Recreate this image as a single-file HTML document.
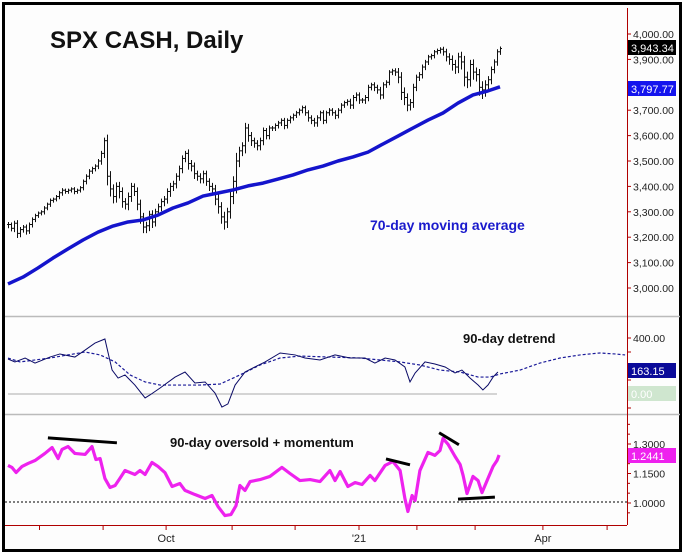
<!DOCTYPE html>
<html><head><meta charset="utf-8">
<style>
html,body{margin:0;padding:0;background:#fff;}
svg{display:block;font-family:"Liberation Sans",Arial,sans-serif;}
</style></head>
<body>
<svg id="chart" width="685" height="555" viewBox="0 0 685 555" xmlns="http://www.w3.org/2000/svg">
<rect x="0" y="0" width="685" height="555" fill="#fff"/>
<rect x="3.5" y="3.5" width="677" height="547" fill="#fdfdfd" stroke="#000" stroke-width="3"/>
<line x1="5" y1="316.5" x2="680" y2="316.5" stroke="#bbb" stroke-width="1.5"/>
<line x1="5" y1="414.5" x2="680" y2="414.5" stroke="#bbb" stroke-width="1.5"/>
<line x1="627.5" y1="8" x2="627.5" y2="525" stroke="#b00000" stroke-width="1"/>
<line x1="5" y1="525.5" x2="627" y2="525.5" stroke="#b00000" stroke-width="1"/>
<g id="gPrice"></g>
<g id="gDet"></g>
<g id="gMom"></g>
<g id="gAxis"></g>
<text x="50" y="48" font-size="24" font-weight="bold" fill="#111">SPX CASH, Daily</text>
<text x="370" y="230" font-size="14" font-weight="bold" fill="#1a1acc">70-day moving average</text>
<text x="463" y="343" font-size="13" font-weight="bold" fill="#111" font-family="Liberation Sans Narrow, Liberation Sans, sans-serif">90-day detrend</text>
<text x="170" y="447" font-size="13" font-weight="bold" fill="#111" font-family="Liberation Sans Narrow, Liberation Sans, sans-serif">90-day oversold + momentum</text>
</svg>
<script>
const closes=[3250,3235,3255,3215,3230,3240,3225,3250,3270,3285,3295,3300,3315,3330,3345,3350,3360,3375,3385,3380,3385,3390,3380,3385,3395,3420,3440,3460,3470,3480,3500,3530,3580,3440,3390,3360,3400,3380,3340,3330,3360,3400,3380,3330,3280,3240,3245,3290,3260,3300,3320,3340,3350,3380,3400,3410,3440,3470,3510,3530,3490,3480,3450,3440,3430,3450,3420,3400,3390,3350,3320,3280,3260,3300,3360,3420,3500,3540,3560,3630,3600,3580,3570,3560,3580,3620,3600,3630,3630,3640,3650,3660,3640,3660,3670,3680,3690,3700,3710,3690,3670,3660,3650,3670,3690,3660,3690,3700,3690,3680,3700,3720,3730,3735,3720,3750,3760,3740,3740,3750,3790,3800,3790,3780,3760,3800,3810,3850,3855,3850,3830,3770,3750,3720,3730,3790,3830,3840,3870,3890,3910,3915,3930,3935,3940,3930,3910,3900,3880,3870,3910,3890,3830,3820,3880,3850,3840,3790,3780,3800,3820,3860,3890,3930,3943];
const ranges=[25,20,25,30,25,20,25,20,20,18,15,15,18,15,18,15,15,18,20,15,15,15,18,15,15,18,20,20,18,18,20,25,30,60,50,45,40,45,40,35,40,35,30,40,45,40,40,35,40,30,30,30,30,30,35,30,30,30,30,25,40,35,35,30,30,30,30,30,35,40,45,45,50,40,45,50,80,40,35,50,40,35,30,30,30,30,25,25,20,20,20,20,25,20,20,18,18,18,20,20,25,25,25,25,20,25,20,20,20,25,20,20,18,20,25,25,25,25,20,25,25,20,25,25,30,25,20,20,20,25,40,50,50,40,35,35,25,25,25,20,20,18,18,18,20,25,30,35,40,45,40,50,60,55,45,50,45,55,60,45,35,30,25,25,20];
const maValues=[3016,3043,3079,3118,3154,3189,3220,3244,3260,3268,3287,3315,3335,3362,3374,3386,3402,3413,3429,3445,3465,3480,3500,3516,3535,3567,3598,3630,3661,3689,3728,3760,3776,3792];
const maDays=[0,5,10,15,20,25,30,35,40,45,50,55,60,65,70,75,80,85,90,95,100,105,110,115,120,125,130,135,140,145,150,155,160,164];
const detDays=[0,2.3,5.7,9,14,17.3,22.3,25.7,29,32.3,33.3,34.7,36.7,39,42.3,45.7,47.3,50.7,55.7,59,62.3,65.7,69,71.3,73.3,75.7,79,82.3,85.7,90.7,95.7,99,104,109,114,119,122.3,125.7,129,132.3,134,135.7,139,142.3,145.7,149,151.3,154,156.7,158.3,160,161.7,163.3];
const detValues=[250,229,257,221,264,286,264,314,364,393,300,171,114,136,64,-28,-7,43,121,157,79,86,7,-93,-71,64,157,193,229,293,279,257,243,279,257,257,221,257,243,193,86,150,229,214,193,150,171,114,64,29,64,121,157];
const detAvgDays=[0,4,14,25.7,30.7,35.7,40.7,45.7,50.7,55.7,64,70.7,77.3,84,90.7,97.3,107.3,117.3,124,130.7,137.3,144,150.7,156.7,160.7,164,170.7,177.3,184,190.7,197.3,202.3,205.7];
const detAvgValues=[257,229,257,300,279,229,136,86,64,64,64,71,136,207,257,271,264,257,243,229,207,171,157,121,121,143,171,221,257,279,293,286,279];
const momDays=[0,1.3,2.7,4.7,6.7,9,12.3,14.7,16.7,18,20,22.3,25.7,28,29.3,30.7,32.3,34,35.7,37.3,39,42.3,44,45.7,48,50,52.3,54.7,57.3,59,62.3,65.7,68,70,72.3,74.3,76,77.3,79,80.7,84,87.3,91.3,94,97.3,100.7,104,107.3,109,110.7,113.3,115.7,118,120.7,122.3,125.7,128.3,130.7,132.3,133.3,134.7,135.7,137.3,140,142.3,144,145,146.7,149,150.7,151.7,153,155,156.7,158,160,161.7,163,163.7];
const momValues=[1.191,1.181,1.155,1.186,1.201,1.216,1.252,1.282,1.226,1.272,1.287,1.252,1.247,1.287,1.221,1.226,1.125,1.079,1.089,1.125,1.165,1.145,1.165,1.145,1.206,1.186,1.155,1.084,1.099,1.064,1.043,1.023,1.038,0.982,0.936,0.941,0.986,1.089,1.064,1.109,1.119,1.135,1.181,1.150,1.114,1.119,1.109,1.165,1.114,1.160,1.084,1.104,1.094,1.140,1.114,1.191,1.211,1.165,1.023,0.957,1.038,1.013,1.165,1.257,1.242,1.267,1.328,1.298,1.237,1.196,1.140,1.048,1.135,1.114,1.053,1.125,1.186,1.216,1.244];
const priceTicks=[3000,3100,3200,3300,3400,3500,3600,3700,3800,3900,4000];
const detTicks=[0,100,200,300,400];
const momTicks=[1.0,1.15,1.3];
const monthTickDays=[10.5,31.7,52.7,74.7,95.7,117,136.3,155.7,178.3,199.7];
const monthLabels=[{d:52.7,t:"Oct"},{d:117,t:"'21"},{d:178.3,t:"Apr"}];
const trendLines=[[13.3,1.331,36.3,1.306],[126,1.224,134,1.194],[143.7,1.357,150.3,1.296],[150,1.020,162.3,1.030]];

const NS="http://www.w3.org/2000/svg";
const xOf=d=>8+3*d;
const yP=v=>34+(4000-v)*0.254;
const yD=v=>394-v*0.14;
const yM=v=>503-(v-1)*196.7;
function mk(tag,attrs,parent){const e=document.createElementNS(NS,tag);for(const k in attrs)e.setAttribute(k,attrs[k]);parent.appendChild(e);return e;}
const gP=document.getElementById('gPrice'),gD=document.getElementById('gDet'),gM=document.getElementById('gMom'),gA=document.getElementById('gAxis');

// price bars
closes.forEach((c,i)=>{
  const o=i>0?closes[i-1]:c, r=ranges[i];
  const hi=Math.max(o,c)+r*0.4, lo=Math.min(o,c)-r*0.6;
  const x=xOf(i)+0.5;
  const g=mk('g',{},gP);
  
  
  mk('line',{x1:x,y1:yP(hi),x2:x,y2:yP(lo),stroke:'#111','stroke-width':1},g);
  mk('line',{x1:x-1.5,y1:yP(o),x2:x,y2:yP(o),stroke:'#111','stroke-width':1},g);
  mk('line',{x1:x,y1:yP(c),x2:x+1.5,y2:yP(c),stroke:'#111','stroke-width':1},g);
});
// MA
const ma=mk('polyline',{points:maDays.map((d,i)=>xOf(d)+','+yP(maValues[i])).join(' '),fill:'none',stroke:'#1414cc','stroke-width':3.5,'stroke-linejoin':'round'},gP);



// detrend
const zl=mk('line',{x1:xOf(0),y1:yD(0),x2:xOf(163),y2:yD(0),stroke:'#aaa','stroke-width':1},gD);


const da=mk('polyline',{points:detAvgDays.map((d,i)=>xOf(d)+','+yD(detAvgValues[i])).join(' '),fill:'none',stroke:'#1a1a99','stroke-width':1.2,'stroke-dasharray':'3,2'},gD);


const dl=mk('polyline',{points:detDays.map((d,i)=>xOf(d)+','+yD(detValues[i])).join(' '),fill:'none',stroke:'#0a0a66','stroke-width':1},gD);



// momentum
const ml=mk('line',{x1:5,y1:yM(1.005),x2:627,y2:yM(1.005),stroke:'#000','stroke-width':1,'stroke-dasharray':'2,2'},gM);


const mp=mk('polyline',{points:momDays.map((d,i)=>xOf(d)+','+yM(momValues[i])).join(' '),fill:'none',stroke:'#ee22ee','stroke-width':3.2,'stroke-linejoin':'round'},gM);


trendLines.forEach(t=>{
  const l=mk('line',{x1:xOf(t[0]),y1:yM(t[1]),x2:xOf(t[2]),y2:yM(t[3]),stroke:'#000','stroke-width':3},gM);
  
  
});

// axes
function tickLabel(y,txt,name){
  mk('line',{x1:627,y1:y,x2:631,y2:y,stroke:'#b00000','stroke-width':1},gA);
  const t=mk('text',{x:633,y:y+4,'font-size':10.5,fill:'#222'},gA);
  t.textContent=txt;
  
  
}
priceTicks.forEach(v=>tickLabel(yP(v),v.toLocaleString('en-US',{minimumFractionDigits:2}),'price-tick-label'));
detTicks.forEach(v=>{ if(v===400) tickLabel(yD(v),v.toFixed(2),'detrend-tick-label'); else mk('line',{x1:627,y1:yD(v),x2:631,y2:yD(v),stroke:'#b00000'},gA);});
mk('line',{x1:627,y1:yD(-100),x2:631,y2:yD(-100),stroke:'#b00000'},gA);
momTicks.forEach(v=>tickLabel(yM(v),v.toFixed(4),'momentum-tick-label'));
[0.95,1.05,1.1,1.2,1.25,1.35,1.4].forEach(v=>mk('line',{x1:627,y1:yM(v),x2:630,y2:yM(v),stroke:'#b00000'},gA));
monthTickDays.forEach(d=>{
  const l=mk('line',{x1:xOf(d),y1:525,x2:xOf(d),y2:530,stroke:'#b00000'},gA);
  
  
});
monthLabels.forEach(m=>{
  const t=mk('text',{x:xOf(m.d),y:542,'font-size':11,fill:'#222','text-anchor':'middle'},gA);
  t.textContent=m.t;
  
  
});
function badge(y,txt,bg,fg,name){
  const g=mk('g',{},gA);
  
  
  mk('rect',{x:628,y:y-8,width:48,height:15,fill:bg},g);
  const t=mk('text',{x:631,y:y+4,'font-size':11,fill:fg},g);
  t.textContent=txt;
}
badge(48,closes[closes.length-1].toLocaleString('en-US',{minimumFractionDigits:2})=== '3,943.00'?'3,943.34':closes[closes.length-1].toLocaleString('en-US',{minimumFractionDigits:2}),'#000','#fff','last-price-badge');
badge(89,'3,797.77','#1414ee','#fff','ma-value-badge');
badge(371,'163.15','#0a0a99','#fff','detrend-value-badge');
badge(394,'0.00','#cfe6cf','#fff','zero-value-badge');
badge(456,'1.2441','#ee22ee','#fff','momentum-value-badge');
</script>
</body></html>
